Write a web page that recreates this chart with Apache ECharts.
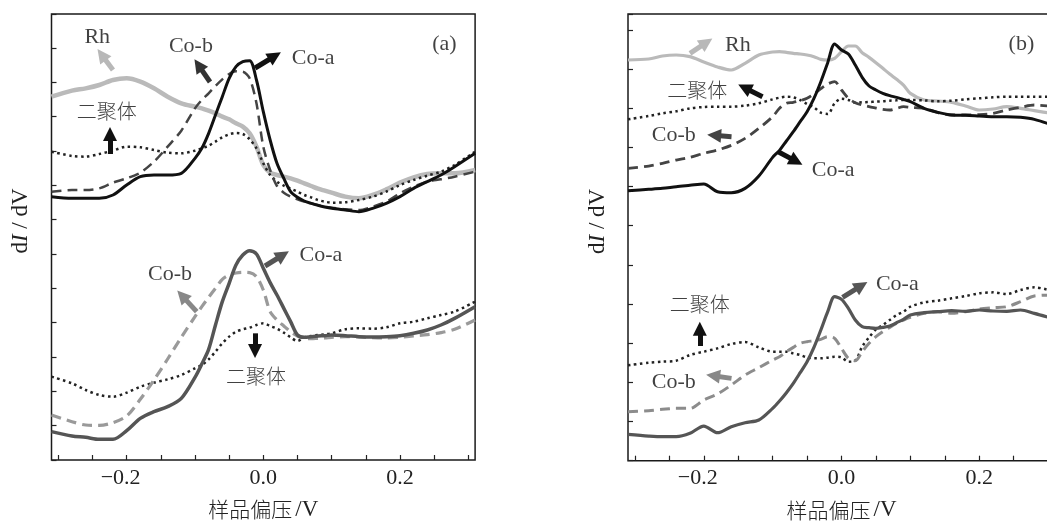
<!DOCTYPE html>
<html><head><meta charset="utf-8">
<script src="https://cdn.jsdelivr.net/npm/echarts@6/dist/echarts.min.js"></script>
<style>html,body{margin:0;padding:0;background:#fff}#c{width:1047px;height:522px}</style>
</head><body><div id="c"></div>
<script>
// sample bias (V)
const biasV = [-0.31,-0.28,-0.26,-0.24,-0.22,-0.20,-0.18,-0.16,-0.14,-0.12,-0.10,-0.09,-0.08,-0.07,-0.06,-0.05,-0.04,-0.03,-0.02,-0.01,0.00,0.01,0.02,0.03,0.04,0.05,0.06,0.07,0.08,0.09,0.10,0.12,0.14,0.16,0.18,0.20,0.22,0.24,0.26,0.28,0.31];

// panel (a) dI/dV, arbitrary units
const aRh      = [10.90,11.08,11.15,11.25,11.40,11.45,11.35,11.15,10.90,10.70,10.60,10.55,10.48,10.40,10.30,10.22,10.10,10.00,9.80,9.40,8.85,8.62,8.55,8.50,8.45,8.38,8.30,8.22,8.14,8.08,8.02,7.90,7.85,7.95,8.12,8.32,8.48,8.58,8.60,8.60,8.70];
const aCobTop  = [8.05,8.10,8.10,8.15,8.32,8.45,8.62,8.95,9.40,9.88,10.55,10.80,11.00,11.22,11.42,11.58,11.66,11.65,11.45,10.70,9.40,8.70,8.22,8.02,7.90,7.82,7.75,7.70,7.65,7.60,7.57,7.52,7.50,7.60,7.75,8.00,8.20,8.35,8.42,8.50,8.65];
const aCoaTop  = [7.90,7.85,7.85,7.85,7.95,8.25,8.50,8.55,8.55,8.60,9.05,9.35,9.80,10.35,10.90,11.45,11.80,11.95,11.98,11.40,10.45,9.60,8.90,8.45,8.05,7.88,7.77,7.70,7.64,7.59,7.55,7.50,7.45,7.55,7.70,7.90,8.15,8.35,8.55,8.80,9.20];
const aDimTop  = [9.25,9.12,9.10,9.18,9.28,9.40,9.38,9.30,9.22,9.20,9.28,9.35,9.43,9.55,9.68,9.77,9.81,9.78,9.62,9.35,8.90,8.55,8.35,8.23,8.14,8.05,7.95,7.88,7.80,7.75,7.72,7.73,7.80,7.90,8.05,8.25,8.40,8.53,8.65,8.85,9.25];
const aCoaBot  = [0.85,0.72,0.68,0.62,0.62,0.88,1.25,1.45,1.60,1.85,2.48,2.88,3.32,4.05,4.75,5.30,5.85,6.15,6.28,6.18,5.75,5.32,4.95,4.55,4.15,3.75,3.68,3.70,3.72,3.73,3.75,3.73,3.70,3.69,3.70,3.73,3.80,3.90,4.05,4.25,4.60];
const aCobBot  = [1.35,1.15,1.05,1.04,1.12,1.32,1.82,2.40,3.03,3.68,4.30,4.60,4.88,5.15,5.42,5.55,5.61,5.63,5.62,5.50,5.10,4.45,4.20,4.02,3.85,3.72,3.65,3.64,3.65,3.66,3.68,3.70,3.69,3.67,3.66,3.68,3.72,3.76,3.82,3.92,4.20];
const aDimBot  = [2.50,2.30,2.10,1.95,1.90,2.02,2.20,2.32,2.42,2.55,2.75,2.85,3.02,3.25,3.50,3.70,3.85,3.92,3.97,4.05,4.10,4.02,3.94,3.82,3.68,3.57,3.68,3.72,3.75,3.77,3.80,3.92,3.95,3.94,3.98,4.10,4.15,4.25,4.35,4.45,4.75];

// panel (b) dI/dV, arbitrary units
const bRh      = [12.02,12.05,12.14,12.17,12.12,11.96,11.81,11.72,11.92,12.17,12.26,12.27,12.25,12.22,12.20,12.17,12.12,12.04,12.02,12.07,12.27,12.44,12.44,12.24,12.10,11.94,11.77,11.60,11.44,11.27,11.02,10.82,10.79,10.75,10.64,10.52,10.55,10.62,10.57,10.50,10.40];
const bCoaTop  = [8.10,8.14,8.17,8.22,8.26,8.30,8.07,8.04,8.17,8.54,9.10,9.31,9.59,9.87,10.17,10.47,10.87,11.37,11.94,12.50,12.32,12.20,11.87,11.50,11.24,11.12,11.02,10.95,10.90,10.84,10.77,10.57,10.45,10.37,10.36,10.34,10.32,10.32,10.30,10.24,10.04];
const bCobTop  = [8.77,8.84,8.92,9.02,9.10,9.22,9.32,9.46,9.67,9.97,10.32,10.57,10.72,10.75,10.80,10.87,11.00,11.16,11.30,11.37,11.12,10.87,10.74,10.67,10.62,10.58,10.54,10.52,10.57,10.62,10.60,10.57,10.44,10.37,10.37,10.38,10.42,10.52,10.60,10.67,10.62];
const bDimTop  = [10.24,10.34,10.42,10.48,10.57,10.61,10.62,10.62,10.65,10.72,10.84,10.89,10.92,10.90,10.82,10.70,10.60,10.44,10.40,10.72,10.86,10.82,10.74,10.75,10.76,10.77,10.78,10.80,10.81,10.82,10.82,10.81,10.78,10.80,10.84,10.87,10.90,10.92,10.92,10.92,10.92];
const bCoaBot  = [0.79,0.74,0.72,0.72,0.82,1.04,0.84,1.02,1.14,1.22,1.57,1.79,2.04,2.32,2.64,2.97,3.40,3.92,4.47,4.92,4.84,4.57,4.22,4.02,3.99,3.97,4.00,4.04,4.14,4.24,4.37,4.44,4.47,4.50,4.48,4.52,4.49,4.48,4.52,4.42,4.25];
const bCobBot  = [1.47,1.50,1.54,1.57,1.57,1.82,2.00,2.27,2.57,2.79,3.02,3.12,3.27,3.40,3.52,3.57,3.60,3.64,3.72,3.67,3.37,3.07,3.00,3.27,3.52,3.72,3.87,4.00,4.12,4.22,4.30,4.42,4.47,4.42,4.47,4.55,4.59,4.62,4.77,4.94,4.97];
const bDimBot  = [2.86,2.94,2.97,3.00,3.17,3.27,3.37,3.50,3.56,3.40,3.27,3.27,3.27,3.22,3.17,3.10,3.07,3.07,3.09,3.12,3.10,2.97,3.00,3.42,3.70,3.94,4.07,4.22,4.37,4.47,4.62,4.75,4.80,4.87,4.94,5.02,5.05,5.00,5.12,5.20,5.07];

// axis ticks
const xTickValues  = [-0.3,-0.25,-0.2,-0.15,-0.1,-0.05,0,0.05,0.1,0.15,0.2,0.25,0.3];
const xLabelValues = [-0.2,0,0.2];

// annotation text: [text, bias, dI/dV]
const aLabels = [['Rh',-0.243,12.68],['Co-b',-0.106,12.40],['Co-a',0.073,12.05],['二聚体',-0.229,10.45],['(a)',0.265,12.48],
                 ['Co-a',0.0843,6.13],['Co-b',-0.1365,5.58],['二聚体',-0.0107,2.50]];
const bLabels = [['Rh',-0.1505,12.47],['二聚体',-0.2093,11.12],['Co-b',-0.2434,9.77],['Co-a',-0.0122,8.72],['(b)',0.2612,12.50],
                 ['Co-a',0.081,5.30],['二聚体',-0.2057,4.70],['Co-b',-0.2434,2.35]];
// arrows: [tailBias, tailVal, headBias, headVal, colour]
const aArrows = [[-0.220,11.70,-0.2366,12.16,'#b8b8b8'],[-0.078,11.34,-0.095,11.85,'#333333'],[-0.012,11.76,0.017,12.12,'#111111'],
                 [-0.2244,9.18,-0.2244,9.78,'#111111'],[0.0025,5.82,0.0287,6.15,'#555555'],[-0.0975,4.45,-0.119,4.93,'#888888'],
                 [-0.0121,3.80,-0.0121,3.27,'#111111']];
const bArrows = [[-0.220,12.22,-0.196,12.55,'#b8b8b8'],[-0.1147,10.92,-0.1408,11.19,'#111111'],[-0.1597,9.72,-0.1849,9.76,'#444444'],
                 [-0.092,9.27,-0.0657,8.98,'#111111'],[0.0015,4.90,0.0289,5.25,'#555555'],[-0.2057,3.44,-0.2057,3.96,'#111111'],
                 [-0.1597,2.47,-0.1865,2.55,'#888888']];

const SERIF = "'Liberation Serif','Noto Sans CJK SC',serif";
const CJK = "'Noto Sans CJK SC','Liberation Serif',sans-serif";

function pts(ys){ return biasV.map((x,i)=>[x, ys[i]]); }
function curve(g, ys, color, width, dash, arrows){
  const s = {type:'line', xAxisIndex:g, yAxisIndex:g, data:pts(ys), showSymbol:false, smooth:0.3,
    lineStyle:{color:color, width:width, type:dash||'solid', cap:'butt', join:'round'},
    emphasis:{disabled:true}, silent:true, animation:false};
  if (arrows) {
    s.markLine = {silent:true, animation:false, symbol:['none','triangle'], symbolSize:14,
      label:{show:false}, emphasis:{disabled:true}, lineStyle:{type:'solid', width:5},
      data: arrows.map(a=>[{coord:[a[0],a[1]], lineStyle:{color:a[4], width:5, type:'solid'}, itemStyle:{color:a[4]}},
                           {coord:[a[2],a[3]], itemStyle:{color:a[4]}}])};
  }
  return s;
}
function annot(g, labels){
  return {type:'scatter', xAxisIndex:g, yAxisIndex:g, symbolSize:0, silent:true, animation:false, z:10,
    data: labels.map(l=>{
      const cjk = /[\u4e00-\u9fff]/.test(l[0]);
      return {value:[l[1],l[2]], name:l[0], label:{fontFamily: cjk?CJK:SERIF, fontSize: cjk?20:22, fontWeight: cjk?300:'normal'}};
    }),
    label:{show:true, position:'inside', formatter:p=>p.name, color:'#111', align:'center', verticalAlign:'middle'}
  };
}
function xAx(g){
  return {type:'value', gridIndex:g, min:-0.31, max:0.31,
    name:'{c|样品偏压}{s|/V}', nameLocation:'middle', nameGap:38,
    nameTextStyle:{rich:{c:{fontFamily:CJK, fontSize:21, fontWeight:300, color:'#222'}, s:{fontFamily:SERIF, fontSize:23, color:'#222', padding:[0,0,0,3]}}},
    axisLine:{show:false, onZero:false}, splitLine:{show:false},
    axisTick:{show:true, inside:true, length:5, customValues:xTickValues, lineStyle:{color:'#222', width:1.2}},
    axisLabel:{show:true, customValues:xLabelValues, margin:7, fontFamily:SERIF, fontSize:22, color:'#222',
      rich:{neg:{fontFamily:SERIF, fontSize:22, color:'#222', padding:[0,12,0,0]}},
      formatter:v=> Math.abs(v)<1e-9 ? '0.0' : (v<0 ? '{neg|\u2212'+Math.abs(v).toFixed(1)+'}' : v.toFixed(1))}
  };
}
function yAx(g, max, step){
  return {type:'value', gridIndex:g, min:0, max:max, interval:step,
    name:'{n|d}{i|I}{n| / dV}', nameLocation:'middle', nameGap:19, nameRotate:90,
    nameTextStyle:{padding:[0,0,0,32], rich:{n:{fontFamily:SERIF, fontSize:23, color:'#222'}, i:{fontFamily:SERIF, fontSize:23, fontStyle:'italic', color:'#222'}}},
    axisLine:{show:false, onZero:false}, splitLine:{show:false}, axisLabel:{show:false},
    axisTick:{show:true, inside:true, length:5, lineStyle:{color:'#222', width:1.2}}
  };
}

const option = {
  backgroundColor:'#ffffff',
  animation:false,
  grid:[
    {left:51.5, top:14, width:423.6, height:446, show:true, borderColor:'#1a1a1a', borderWidth:1.5, containLabel:false, outerBoundsMode:'none'},
    {left:628, top:14, width:427, height:446.7, show:true, borderColor:'#1a1a1a', borderWidth:1.5, containLabel:false, outerBoundsMode:'none'}
  ],
  xAxis:[xAx(0), xAx(1)],
  yAxis:[yAx(0, 13.38, 1.03), yAx(1, 13.40, 1.175)],
  series:[
    curve(0, aRh, '#bababa', 4.5, null, aArrows),
    curve(0, aDimTop, '#222222', 2.5, [2.5,3.5]),
    curve(0, aCobTop, '#444444', 2.5, [10,6]),
    curve(0, aCoaTop, '#111111', 3),
    curve(0, aDimBot, '#222222', 2.5, [2.5,3.5]),
    curve(0, aCobBot, '#9a9a9a', 3.2, [10,6]),
    curve(0, aCoaBot, '#555555', 3.5),
    annot(0, aLabels),
    curve(1, bRh, '#bababa', 3.2, null, bArrows),
    curve(1, bDimTop, '#222222', 2.5, [2.5,3.5]),
    curve(1, bCobTop, '#444444', 2.8, [10,6]),
    curve(1, bCoaTop, '#111111', 3),
    curve(1, bDimBot, '#222222', 2.5, [2.5,3.5]),
    curve(1, bCobBot, '#8c8c8c', 3, [10,6]),
    curve(1, bCoaBot, '#555555', 3.2),
    annot(1, bLabels)
  ]
};
const chart = echarts.init(document.getElementById('c'), null, {renderer:'canvas'});
chart.setOption(option);
</script>
</body></html>
